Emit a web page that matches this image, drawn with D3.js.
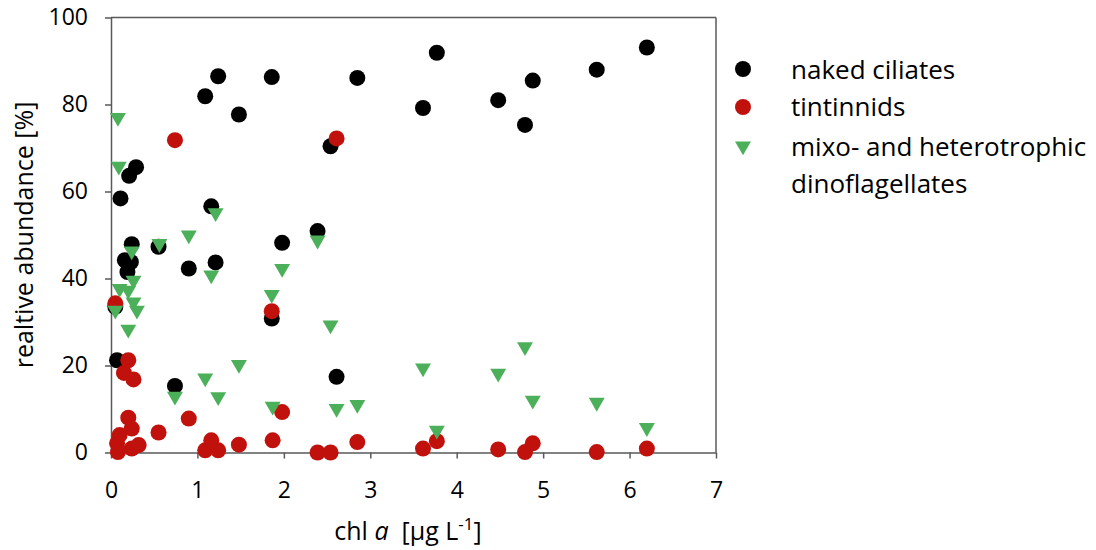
<!DOCTYPE html>
<html><head><meta charset="utf-8">
<script src="https://cdn.jsdelivr.net/npm/d3@7"></script>
<style>body{margin:0;background:#fff;}text{font-family:"Open Sans",sans-serif;}</style>
</head><body>
<svg id="c" width="1096" height="550"></svg>
<script>
const xTicks=[0,1,2,3,4,5,6,7];
const yTicks=[0,20,40,60,80,100];
const seriesNames=["naked ciliates","tintinnids","mixo- and heterotrophic","dinoflagellates"];
const nakedX=[0.05,0.07,0.11,0.16,0.19,0.21,0.23,0.24,0.29,0.55,0.74,0.9,1.09,1.16,1.21,1.24,1.48,1.86,1.86,1.98,2.39,2.54,2.61,2.85,3.61,3.77,4.48,4.79,4.88,5.62,6.2];
const nakedY=[33.5,21.2,58.4,44.2,41.5,63.6,43.8,47.9,65.6,47.3,15.3,42.3,81.9,56.6,43.7,86.5,77.7,86.3,30.8,48.2,50.9,70.4,17.4,86.1,79.2,91.9,81,75.3,85.5,88.0,93.1];
const tintX=[0.05,0.07,0.08,0.1,0.15,0.2,0.2,0.24,0.24,0.26,0.32,0.55,0.74,0.9,1.09,1.16,1.24,1.48,1.86,1.87,1.98,2.39,2.54,2.61,2.85,3.61,3.77,4.48,4.79,4.88,5.62,6.2];
const tintY=[34.3,2.1,0.1,4.0,18.3,21.2,8.0,5.5,0.9,16.8,1.7,4.6,71.8,7.8,0.5,2.8,0.5,1.8,32.5,2.8,9.3,0,0,72.2,2.4,0.9,2.6,0.7,0.1,2.1,0.1,0.9];
const dinoX=[0.05,0.08,0.09,0.1,0.2,0.2,0.24,0.26,0.26,0.3,0.56,0.74,0.9,1.09,1.16,1.21,1.24,1.48,1.86,1.87,1.98,2.39,2.54,2.61,2.85,3.61,3.77,4.48,4.79,4.88,5.62,6.2];
const dinoY=[32.7,77.0,65.8,37.7,37.3,28.3,46.3,39.6,34.6,32.7,48,12.9,50,17.1,40.8,55.1,12.8,20.2,36.3,10.6,42.3,48.8,29.3,10.1,11,19.4,5.1,18.2,24.3,12,11.5,5.7];

const svg=d3.select("#c");
const x=d3.scaleLinear().domain([0,7]).range([111,716]);
const y=d3.scaleLinear().domain([0,100]).range([452.5,17.5]);
const axisCol="#595959";

svg.append("line").attr("x1",x(0)).attr("x2",x(7)).attr("y1",y(100)).attr("y2",y(100)).attr("stroke",axisCol).attr("stroke-width",1.5);
svg.append("line").attr("x1",x(7)).attr("x2",x(7)).attr("y1",y(100)).attr("y2",y(0)).attr("stroke",axisCol).attr("stroke-width",1.5);

const gx=svg.append("g").attr("transform",`translate(0,${y(0)})`)
 .call(d3.axisBottom(x).tickValues(xTicks).tickFormat(d3.format("d")).tickSize(6).tickPadding(23).tickSizeOuter(0));
const gy=svg.append("g").attr("transform",`translate(${x(0)},0)`)
 .call(d3.axisLeft(y).tickValues(yTicks).tickFormat(d3.format("d")).tickSize(6).tickPadding(17).tickSizeOuter(0));
[gx,gy].forEach(g=>{
 g.select(".domain").attr("stroke",axisCol).attr("stroke-width",1.5);
 g.selectAll(".tick line").attr("stroke",axisCol).attr("stroke-width",1.5);
 g.selectAll(".tick text").attr("font-size",23).attr("fill","#000").attr("font-family","Open Sans");
});

const black="#000000", red="#C0110D", green="#4CAF5A";
const tri=d3.symbol().type(d3.symbolTriangle).size(110);

svg.append("g").selectAll("circle").data(nakedX.map((v,i)=>[v,nakedY[i]])).join("circle")
 .attr("cx",d=>x(d[0])).attr("cy",d=>y(d[1])).attr("r",8).attr("fill",black);
svg.append("g").selectAll("circle").data(tintX.map((v,i)=>[v,tintY[i]])).join("circle")
 .attr("cx",d=>x(d[0])).attr("cy",d=>y(d[1])).attr("r",8).attr("fill",red);
svg.append("g").selectAll("path").data(dinoX.map((v,i)=>[v,dinoY[i]])).join("path")
 .attr("d",tri).attr("fill",green)
 .attr("transform",d=>`translate(${x(d[0])},${y(d[1])}) rotate(180)`);

svg.append("text").attr("transform",`translate(33,${(y(0)+y(100))/2}) rotate(-90)`)
 .attr("text-anchor","middle").attr("font-size",25).text("realtive abundance [%]");
const xt=svg.append("text").attr("x",408).attr("y",540).attr("text-anchor","middle").attr("font-size",25);
xt.append("tspan").text("chl\u00a0");
xt.append("tspan").attr("font-style","italic").text("a");
xt.append("tspan").text("\u00a0\u00a0[µg L");
xt.append("tspan").attr("dy",-10).attr("font-size",17).text("-1");
xt.append("tspan").attr("dy",10).text("]");

const lg=svg.append("g");
lg.append("circle").attr("cx",743).attr("cy",69).attr("r",8).attr("fill",black);
lg.append("circle").attr("cx",743).attr("cy",107).attr("r",8).attr("fill",red);
lg.append("path").attr("d",tri).attr("fill",green).attr("transform","translate(743,146) rotate(180)");
const ly=[79,116,156,193];
seriesNames.forEach((s,i)=>lg.append("text").attr("x",791).attr("y",ly[i]).attr("font-size",26).text(s));
</script>
</body></html>
